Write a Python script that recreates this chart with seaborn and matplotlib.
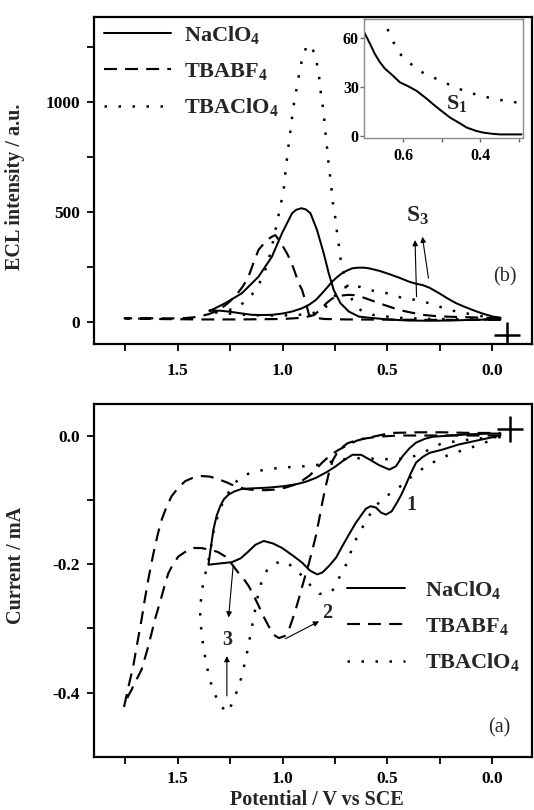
import matplotlib
matplotlib.use("Agg")
import matplotlib.pyplot as plt
import seaborn as sns
import pandas as pd
from matplotlib.ticker import FixedLocator
from matplotlib.lines import Line2D

# ---------------- data ----------------
SALTS = ["NaClO$_4$", "TBABF$_4$", "TBAClO$_4$"]

# (b) ECL intensity / a.u. vs potential / V  (forward then reverse scan)
ecl_na_fwd_x = [-0.04, 0.1, 0.2, 0.3, 0.4, 0.46, 0.52, 0.58, 0.636, 0.684, 0.724, 0.756, 0.78, 0.804,
                0.836, 0.867, 0.89, 0.91, 0.935, 0.955, 1.003, 1.051, 1.115, 1.195, 1.274, 1.339, 1.35]
ecl_na_fwd_y = [10, 8, 5, 4, 5, 8, 12, 17, 23, 46, 84, 144, 221, 312,
                418, 494, 512, 517, 510, 494, 403, 296, 205, 129, 84, 53, 50]
ecl_na_rev_x = [1.35, 1.3, 1.259, 1.2, 1.147, 1.1, 1.051, 1.0, 0.955, 0.91, 0.875, 0.84, 0.812, 0.788,
                0.764, 0.74, 0.716, 0.69, 0.668, 0.64, 0.61, 0.588, 0.54, 0.492, 0.44, 0.396, 0.36,
                0.333, 0.3, 0.252, 0.21, 0.172, 0.13, 0.093, 0.05, -0.003, -0.04]
ecl_na_rev_y = [50, 50, 46, 38, 31, 30, 31, 37, 46, 60, 76, 100, 129, 155,
                182, 203, 221, 234, 243, 246, 246, 243, 232, 217, 199, 182, 172,
                167, 155, 129, 104, 84, 67, 53, 38, 23, 18]

ecl_bf_fwd_x = [-0.04, 0.1, 0.3, 0.5, 0.7, 0.8, 0.85, 0.874, 0.89, 0.907, 0.923, 0.943, 0.963, 0.983,
                1.003, 1.02, 1.035, 1.055, 1.075, 1.095, 1.115, 1.14, 1.163, 1.19, 1.227, 1.26, 1.3,
                1.35, 1.4, 1.48, 1.6, 1.754]
ecl_bf_fwd_y = [8, 8, 8, 9, 10, 12, 18, 30, 90, 144, 175, 230, 281, 318,
                350, 375, 395, 385, 372, 350, 327, 265, 205, 160, 114, 85, 55,
                35, 22, 15, 15, 15]
ecl_bf_rev_x = [1.754, 1.6, 1.4, 1.2, 1.0, 0.9, 0.85, 0.82, 0.79, 0.764, 0.74, 0.71, 0.685, 0.66,
                0.63, 0.6, 0.54, 0.49, 0.444, 0.39, 0.333, 0.28, 0.22, 0.16, 0.11, 0.05, -0.04]
ecl_bf_rev_y = [15, 12, 10, 10, 12, 18, 30, 55, 85, 105, 115, 120, 122, 121,
                115, 105, 84, 68, 53, 42, 31, 26, 23, 21, 20, 18, 15]

ecl_tc_fwd_x = [-0.04, 0.1, 0.3, 0.46, 0.5, 0.54, 0.572, 0.6, 0.628, 0.65, 0.668, 0.69, 0.71, 0.724,
                0.732, 0.74, 0.748, 0.759, 0.772, 0.78, 0.786, 0.793, 0.799, 0.804, 0.815, 0.824,
                0.834, 0.847, 0.865, 0.884, 0.9, 0.907, 0.92, 0.931, 0.943, 0.952, 0.96, 0.968,
                0.976, 0.984, 0.995, 1.011, 1.024, 1.051, 1.067, 1.09, 1.12, 1.145, 1.171, 1.219,
                1.27, 1.33, 1.35]
ecl_tc_fwd_y = [10, 10, 12, 18, 23, 28, 31, 40, 53, 72, 99, 160, 230, 289,
                350, 403, 471, 532, 654, 714, 775, 836, 897, 957, 1018, 1102,
                1165, 1223, 1255, 1262, 1215, 1196, 1135, 1074, 1014, 953, 889, 831,
                768, 706, 600, 524, 464, 342, 281, 215, 157, 125, 99, 61,
                50, 45, 45]
ecl_tc_rev_x = [1.35, 1.3, 1.2, 1.1, 1.0, 0.9, 0.85, 0.8, 0.77, 0.745, 0.716, 0.69, 0.66, 0.63,
                0.596, 0.54, 0.484, 0.428, 0.364, 0.3, 0.244, 0.189, 0.125, 0.061, -0.003, -0.04]
ecl_tc_rev_y = [45, 40, 32, 28, 28, 32, 40, 62, 90, 125, 152, 160, 163, 158,
                145, 137, 126, 107, 99, 84, 66, 50, 38, 26, 20, 17]

# inset of (b): forward scans, 0.3 - 0.7 V
ins_na_x = [0.70, 0.685, 0.673, 0.66, 0.647, 0.63, 0.608, 0.585, 0.565, 0.541, 0.522, 0.50,
            0.478, 0.455, 0.435, 0.41, 0.392, 0.37, 0.349, 0.32, 0.293]
ins_na_y = [63, 56, 50, 45, 41, 37.5, 32.6, 30, 27.4, 23, 19.2, 15,
            11, 7.8, 4.9, 2.8, 1.8, 1.1, 0.7, 0.7, 0.7]
ins_tc_x = [0.655, 0.647, 0.635, 0.62, 0.608, 0.585, 0.565, 0.541, 0.522, 0.497, 0.478, 0.455,
            0.435, 0.41, 0.392, 0.364, 0.349, 0.32, 0.293]
ins_tc_y = [73, 70, 62, 55, 50, 45, 40.8, 37.5, 35.7, 32.8, 31, 28.5,
            27.2, 25, 24, 22.5, 21.8, 20.8, 19.8]

# (a) current / mA vs potential / V (cyclic voltammograms)
cv_na_fwd_x = [-0.04, 0.075, 0.16, 0.238, 0.299, 0.33, 0.363, 0.39, 0.411, 0.435, 0.459, 0.48,
               0.507, 0.53, 0.555, 0.58, 0.603, 0.625, 0.651, 0.68, 0.715, 0.745, 0.779, 0.81,
               0.835, 0.87, 0.906, 0.95, 1.002, 1.045, 1.09, 1.13, 1.162, 1.2, 1.242, 1.3, 1.354]
cv_na_fwd_y = [0.0, -0.008, -0.014, -0.022, -0.027, -0.033, -0.042, -0.06, -0.076, -0.093, -0.107, -0.118,
               -0.123, -0.12, -0.112, -0.11, -0.114, -0.124, -0.136, -0.152, -0.172, -0.19, -0.203, -0.213,
               -0.216, -0.21, -0.198, -0.187, -0.175, -0.168, -0.164, -0.17, -0.18, -0.191, -0.197, -0.199, -0.201]
cv_na_rev_x = [1.354, 1.345, 1.33, 1.315, 1.298, 1.28, 1.258, 1.23, 1.194, 1.13, 1.066, 1.0, 0.938,
               0.89, 0.842, 0.79, 0.747, 0.71, 0.667, 0.625, 0.587, 0.54, 0.491, 0.46, 0.427, 0.395,
               0.363, 0.32, 0.284, 0.2, 0.1, 0.0, -0.04]
cv_na_rev_y = [-0.201, -0.18, -0.146, -0.125, -0.11, -0.099, -0.092, -0.087, -0.083, -0.082, -0.081, -0.079, -0.076,
               -0.072, -0.066, -0.057, -0.048, -0.039, -0.03, -0.03, -0.037, -0.046, -0.053, -0.048, -0.032, -0.02,
               -0.011, -0.005, -0.002, 0.0, 0.002, 0.003, 0.003]

cv_bf_fwd_x = [-0.04, 0.1, 0.3, 0.45, 0.55, 0.635, 0.69, 0.731, 0.76, 0.779, 0.795, 0.811, 0.826, 0.842,
               0.858, 0.874, 0.89, 0.906, 0.922, 0.938, 0.954, 0.97, 0.99, 1.018, 1.042, 1.066, 1.09,
               1.114, 1.138, 1.162, 1.186, 1.21, 1.24, 1.274, 1.31, 1.354, 1.39, 1.425, 1.46, 1.497,
               1.521, 1.545, 1.561, 1.577, 1.593, 1.609, 1.625, 1.641, 1.657, 1.673, 1.69, 1.705,
               1.72, 1.737, 1.756]
cv_bf_fwd_y = [0.0, 0.0, 0.0, 0.0, -0.002, -0.006, -0.012, -0.022, -0.038, -0.058, -0.08, -0.105, -0.131, -0.157,
               -0.178, -0.198, -0.216, -0.234, -0.253, -0.271, -0.287, -0.302, -0.312, -0.315, -0.31, -0.297, -0.282,
               -0.265, -0.249, -0.234, -0.223, -0.214, -0.201, -0.188, -0.181, -0.177, -0.175, -0.175, -0.18, -0.188,
               -0.199, -0.214, -0.231, -0.25, -0.268, -0.286, -0.307, -0.328, -0.346, -0.364, -0.375, -0.384,
               -0.395, -0.405, -0.421]
cv_bf_rev_x = [1.756, 1.735, 1.713, 1.693, 1.673, 1.657, 1.641, 1.625, 1.609, 1.593, 1.577, 1.553, 1.529,
               1.497, 1.465, 1.43, 1.386, 1.346, 1.306, 1.266, 1.226, 1.18, 1.13, 1.08, 1.034, 0.985,
               0.938, 0.906, 0.874, 0.842, 0.811, 0.77, 0.731, 0.69, 0.646, 0.6, 0.483, 0.35, 0.238,
               0.1, -0.04]
cv_bf_rev_y = [-0.421, -0.39, -0.359, -0.322, -0.286, -0.254, -0.224, -0.197, -0.172, -0.15, -0.131, -0.11, -0.094,
               -0.081, -0.071, -0.066, -0.063, -0.064, -0.068, -0.073, -0.079, -0.083, -0.085, -0.085, -0.084, -0.081,
               -0.076, -0.07, -0.063, -0.053, -0.042, -0.03, -0.022, -0.015, -0.008, -0.004, 0.004, 0.005, 0.005,
               0.004, 0.004]

cv_tc_fwd_x = [-0.04, 0.075, 0.16, 0.238, 0.3, 0.363, 0.4, 0.435, 0.467, 0.5, 0.53, 0.564, 0.59, 0.614,
               0.64, 0.663, 0.69, 0.711, 0.735, 0.76, 0.79, 0.826, 0.86, 0.89, 0.938, 0.97, 1.002,
               1.05, 1.075, 1.098, 1.122, 1.146, 1.17, 1.194, 1.226, 1.246, 1.266, 1.306, 1.338,
               1.362, 1.38, 1.392]
cv_tc_fwd_y = [-0.002, -0.016, -0.025, -0.034, -0.045, -0.058, -0.068, -0.078, -0.087, -0.093, -0.1, -0.114, -0.126, -0.14,
               -0.155, -0.17, -0.196, -0.21, -0.224, -0.24, -0.247, -0.246, -0.236, -0.224, -0.208, -0.2, -0.195,
               -0.201, -0.21, -0.224, -0.255, -0.297, -0.338, -0.374, -0.405, -0.42, -0.431, -0.416, -0.39,
               -0.359, -0.325, -0.29]
cv_tc_rev_x = [1.394, 1.386, 1.375, 1.36, 1.345, 1.33, 1.31, 1.29, 1.274, 1.24, 1.194, 1.15, 1.114, 1.06,
               1.002, 0.906, 0.811, 0.76, 0.715, 0.619, 0.523, 0.427, 0.38, 0.331, 0.28, 0.238, 0.15,
               0.075, -0.04]
cv_tc_rev_y = [-0.27, -0.245, -0.222, -0.205, -0.18, -0.15, -0.125, -0.108, -0.098, -0.078, -0.063, -0.058, -0.055, -0.052,
               -0.05, -0.048, -0.045, -0.04, -0.037, -0.035, -0.037, -0.036, -0.033, -0.027, -0.018, -0.012, -0.008,
               -0.005, -0.002]

# start-point crosses
cross_ecl = (-0.072, -63)
cross_cv = (-0.083, 0.0106)

# ---------------- style ----------------
sns.set_style("ticks")
plt.rcParams.update({
    "font.family": ["Liberation Serif", "DejaVu Serif"],
    "font.weight": "bold",
    "axes.unicode_minus": False,
    "mathtext.fontset": "custom",
    "mathtext.rm": "Liberation Serif:bold",
    "mathtext.bf": "Liberation Serif:bold",
    "mathtext.it": "Liberation Serif:italic:bold",
    "axes.linewidth": 1.5,
    "axes.edgecolor": "black",
})

STY = [dict(linestyle="-", linewidth=1.45),
       dict(linestyle=(0, (6.0, 3.8)), linewidth=1.55),
       dict(linestyle=(0, (1.0, 4.6)), linewidth=1.8)]

fig = plt.figure(figsize=(5.34, 8.10), dpi=100)
W, H = 534.0, 810.0
ax_b = fig.add_axes([94 / W, 1 - 344 / H, 438 / W, 327 / H])
ax_a = fig.add_axes([94 / W, 1 - 757 / H, 438 / W, 353 / H])
ax_in = fig.add_axes([364.4 / W, 1 - 138 / H, 158.3 / W, 119.5 / H])


def draw(ax, xs, ys, sty):
    df = pd.DataFrame({"E": xs, "I": ys})
    sns.lineplot(data=df, x="E", y="I", sort=False, estimator=None, ax=ax,
                 color="black", **sty)


ecl = [(ecl_na_fwd_x + ecl_na_rev_x, ecl_na_fwd_y + ecl_na_rev_y),
       (ecl_bf_fwd_x + ecl_bf_rev_x, ecl_bf_fwd_y + ecl_bf_rev_y),
       (ecl_tc_fwd_x + ecl_tc_rev_x, ecl_tc_fwd_y + ecl_tc_rev_y)]
cv = [(cv_na_fwd_x + cv_na_rev_x, cv_na_fwd_y + cv_na_rev_y),
      (cv_bf_fwd_x + cv_bf_rev_x, cv_bf_fwd_y + cv_bf_rev_y),
      (cv_tc_fwd_x + cv_tc_rev_x, cv_tc_fwd_y + cv_tc_rev_y)]

for (xs, ys), sty in zip(ecl, STY):
    draw(ax_b, xs, ys, sty)
for (xs, ys), sty in zip(cv, STY):
    draw(ax_a, xs, ys, sty)
draw(ax_in, ins_na_x, ins_na_y, STY[0])
draw(ax_in, ins_tc_x, ins_tc_y, STY[2])

ax_b.plot([cross_ecl[0]], [cross_ecl[1]], marker="+", color="black", markersize=19, mew=1.8)
ax_a.plot([cross_cv[0]], [cross_cv[1]], marker="+", color="black", markersize=19, mew=1.8)

# ---------------- axes ----------------
for ax in (ax_b, ax_a):
    ax.set_xlim(1.90, -0.19)
    ax.xaxis.set_major_locator(FixedLocator([1.5, 1.0, 0.5, 0.0]))
    ax.xaxis.set_minor_locator(FixedLocator([1.75, 1.25, 0.75, 0.25]))
    ax.tick_params(which="both", direction="out", length=5, width=1.3, colors="black")
    ax.tick_params(axis="both", which="major", labelsize=12.5)
    ax.tick_params(axis="y", pad=5)
    for s in ax.spines.values():
        s.set_linewidth(1.6)
        s.set_visible(True)
ax_b.tick_params(axis="x", pad=9)
ax_a.tick_params(axis="x", pad=5)

ax_b.set_ylim(-102, 1389)
ax_b.yaxis.set_major_locator(FixedLocator([0, 500, 1000]))
ax_b.yaxis.set_minor_locator(FixedLocator([250, 750, 1250]))
ax_b.set_xticklabels(["1.5", "1.0", "0.5", "0.0"])
ax_b.set_yticklabels(["0", "500", "1000"])
ax_b.set_xlabel("")
ax_b.set_ylabel("ECL intensity / a.u.", fontsize=14.5, fontweight="bold")
ax_b.yaxis.set_label_coords(-0.158, 0.48)

ax_a.set_ylim(-0.5, 0.049)
ax_a.yaxis.set_major_locator(FixedLocator([0.0, -0.2, -0.4]))
ax_a.yaxis.set_minor_locator(FixedLocator([-0.1, -0.3]))
ax_a.set_xticklabels(["1.5", "1.0", "0.5", "0.0"])
ax_a.set_yticklabels(["0.0", "-0.2", "-0.4"])
ax_a.set_ylabel("Current / mA", fontsize=14.5, fontweight="bold")
ax_a.yaxis.set_label_coords(-0.156, 0.544)
ax_a.set_xlabel("Potential / V vs SCE", fontsize=14.5, fontweight="bold", va="center")
ax_a.xaxis.set_label_coords(0.509, -0.123)

for ax in (ax_b, ax_a):
    for t in ax.get_xticklabels() + ax.get_yticklabels():
        t.set_fontweight("bold")

# inset
ax_in.set_xlim(0.70, 0.29)
ax_in.set_ylim(-1.5, 71.7)
ax_in.xaxis.set_major_locator(FixedLocator([0.6, 0.4]))
ax_in.xaxis.set_minor_locator(FixedLocator([0.5, 0.3]))
ax_in.yaxis.set_major_locator(FixedLocator([0, 30, 60]))
ax_in.set_xticklabels(["0.6", "0.4"])
ax_in.set_yticklabels(["0", "30", "60"])
ax_in.tick_params(which="both", direction="out", length=3, width=1.0, colors="#666666",
                  labelcolor="black", labelsize=11.5)
ax_in.tick_params(axis="x", pad=4)
ax_in.tick_params(axis="y", pad=1)
for t in ax_in.get_xticklabels() + ax_in.get_yticklabels():
    t.set_fontweight("bold")
ax_in.set_xlabel("")
ax_in.set_ylabel("")
for s in ax_in.spines.values():
    s.set_linewidth(1.0)
    s.set_color("#8c8c8c")
    s.set_visible(True)
ax_in.text(0.461, 19.5, "S$_1$", fontsize=16, fontweight="bold", ha="center", va="center")

# ---------------- legends ----------------
handles = [Line2D([], [], color="black", **sty) for sty in STY]
leg_b = ax_b.legend(handles, SALTS, loc="upper left", bbox_to_anchor=(104 / W, 1 - 24 / H),
                    bbox_transform=fig.transFigure, frameon=False, fontsize=16,
                    handlelength=3.0, handletextpad=0.6, labelspacing=0.66, borderpad=0,
                    borderaxespad=0)
leg_a = ax_a.legend(handles, SALTS, loc="upper left", bbox_to_anchor=(347 / W, 1 - 579 / H),
                    bbox_transform=fig.transFigure, frameon=False, fontsize=16,
                    handlelength=2.6, handletextpad=0.9, labelspacing=0.66, borderpad=0,
                    borderaxespad=0)

# ---------------- annotations ----------------
ax_b.text(-0.059, 205, "(b)", fontsize=14.5, fontweight="normal", ha="center", va="center")
ax_a.text(-0.035, -0.455, "(a)", fontsize=14.5, fontweight="normal", ha="center", va="center")
ax_b.text(0.357, 482, "S$_3$", fontsize=17, fontweight="bold", ha="center", va="center")

arrow = dict(arrowstyle="-|>", lw=0.8, color="black", mutation_scale=8, shrinkA=0, shrinkB=0)
ax_b.annotate("", xy=(0.368, 372), xytext=(0.361, 114), arrowprops=arrow)
ax_b.annotate("", xy=(0.333, 387), xytext=(0.304, 198), arrowprops=arrow)

ax_a.text(0.387, -0.108, "1", fontsize=14.5, fontweight="bold", ha="center", va="center")
ax_a.text(0.787, -0.276, "2", fontsize=14.5, fontweight="bold", ha="center", va="center")
ax_a.text(1.266, -0.318, "3", fontsize=14.5, fontweight="bold", ha="center", va="center")
ax_a.annotate("", xy=(1.258, -0.283), xytext=(1.236, -0.203), arrowprops=arrow)
ax_a.annotate("", xy=(1.266, -0.343), xytext=(1.266, -0.405), arrowprops=arrow)
ax_a.annotate("", xy=(0.826, -0.289), xytext=(0.986, -0.316), arrowprops=arrow)

fig.savefig("out.png", dpi=100)
